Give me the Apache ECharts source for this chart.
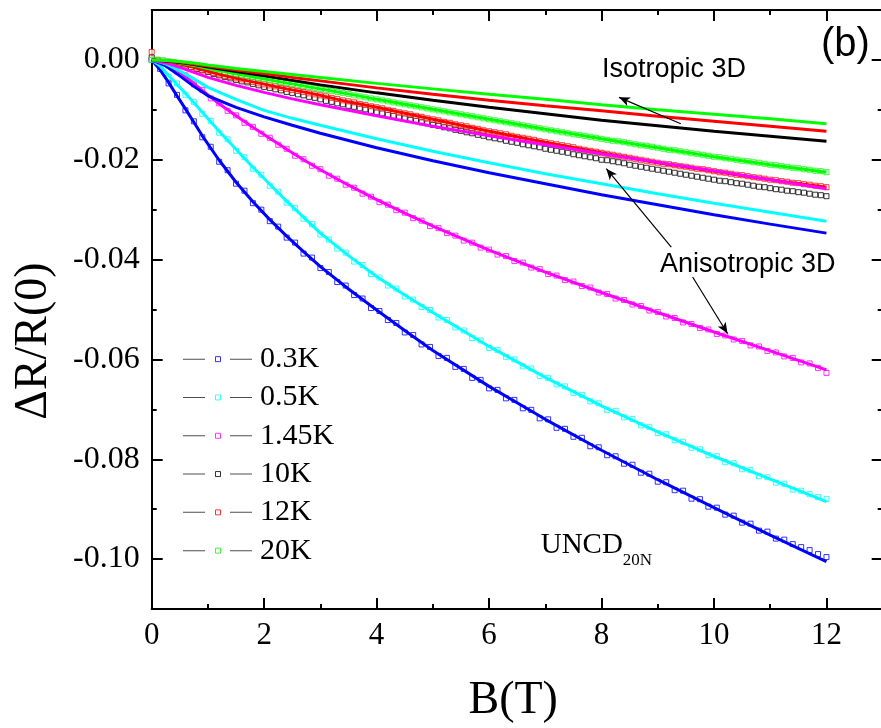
<!DOCTYPE html>
<html><head><meta charset="utf-8">
<script src="https://cdn.jsdelivr.net/npm/echarts@6/dist/echarts.min.js"></script>
<style>html,body{margin:0;padding:0;background:#fff}#c{width:881px;height:728px}</style>
</head><body><div id="c"></div>
<script>
// Magnetic field values of the measured points (T), low-temperature runs
const B = [0,0.15,0.3,0.45,0.6,0.75,0.9,1.05,1.2,1.35,
1.5,1.65,1.8,1.95,2.1,2.25,2.4,2.55,2.7,2.85,
3,3.15,3.3,3.45,3.6,3.75,3.9,4.05,4.2,4.35,
4.5,4.65,4.8,4.95,5.1,5.25,5.4,5.55,5.7,5.85,
6,6.15,6.3,6.45,6.6,6.75,6.9,7.05,7.2,7.35,
7.5,7.65,7.8,7.95,8.1,8.25,8.4,8.55,8.7,8.85,
9,9.15,9.3,9.45,9.6,9.75,9.9,10.05,10.2,10.35,
10.5,10.65,10.8,10.95,11.1,11.25,11.4,11.55,11.7,11.85,
12];
// Magnetic field values of the measured points (T), high-temperature runs
const B2 = [0,0.1,0.2,0.3,0.4,0.5,0.6,0.7,0.8,0.9,
1,1.1,1.2,1.3,1.4,1.5,1.6,1.7,1.8,1.9,
2,2.1,2.2,2.3,2.4,2.5,2.6,2.7,2.8,2.9,
3,3.1,3.2,3.3,3.4,3.5,3.6,3.7,3.8,3.9,
4,4.1,4.2,4.3,4.4,4.5,4.6,4.7,4.8,4.9,
5,5.1,5.2,5.3,5.4,5.5,5.6,5.7,5.8,5.9,
6,6.1,6.2,6.3,6.4,6.5,6.6,6.7,6.8,6.9,
7,7.1,7.2,7.3,7.4,7.5,7.6,7.7,7.8,7.9,
8,8.1,8.2,8.3,8.4,8.5,8.6,8.7,8.8,8.9,
9,9.1,9.2,9.3,9.4,9.5,9.6,9.7,9.8,9.9,
10,10.1,10.2,10.3,10.4,10.5,10.6,10.7,10.8,10.9,
11,11.1,11.2,11.3,11.4,11.5,11.6,11.7,11.8,11.9,
12];
const data03K = [0,-0.0018,-0.0047,-0.0070,-0.0101,-0.0123,-0.0155,-0.0174,-0.0204,-0.0221,
-0.0248,-0.0262,-0.0287,-0.0300,-0.0323,-0.0334,-0.0356,-0.0366,-0.0388,-0.0396,
-0.0417,-0.0425,-0.0445,-0.0452,-0.0471,-0.0478,-0.0497,-0.0503,-0.0521,-0.0527,
-0.0546,-0.0551,-0.0570,-0.0575,-0.0593,-0.0597,-0.0615,-0.0619,-0.0637,-0.0641,
-0.0658,-0.0661,-0.0678,-0.0681,-0.0698,-0.0701,-0.0718,-0.0720,-0.0737,-0.0739,
-0.0755,-0.0757,-0.0774,-0.0776,-0.0792,-0.0794,-0.0809,-0.0811,-0.0827,-0.0829,
-0.0845,-0.0846,-0.0862,-0.0863,-0.0879,-0.0880,-0.0895,-0.0897,-0.0911,-0.0913,
-0.0927,-0.0929,-0.0943,-0.0945,-0.0959,-0.0961,-0.0970,-0.0976,-0.0982,-0.0990,
-0.0996];
const data05K = [0,-0.0010,-0.0034,-0.0047,-0.0070,-0.0084,-0.0108,-0.0122,-0.0146,-0.0159,
-0.0182,-0.0195,-0.0218,-0.0230,-0.0252,-0.0264,-0.0286,-0.0297,-0.0318,-0.0329,
-0.0350,-0.0360,-0.0378,-0.0386,-0.0404,-0.0411,-0.0429,-0.0436,-0.0452,-0.0458,
-0.0474,-0.0480,-0.0495,-0.0501,-0.0516,-0.0521,-0.0536,-0.0542,-0.0557,-0.0562,
-0.0577,-0.0581,-0.0595,-0.0600,-0.0614,-0.0618,-0.0633,-0.0637,-0.0650,-0.0654,
-0.0667,-0.0671,-0.0684,-0.0688,-0.0701,-0.0703,-0.0716,-0.0719,-0.0732,-0.0735,
-0.0748,-0.0750,-0.0762,-0.0765,-0.0777,-0.0780,-0.0792,-0.0794,-0.0806,-0.0808,
-0.0820,-0.0822,-0.0834,-0.0836,-0.0847,-0.0849,-0.0861,-0.0863,-0.0870,-0.0876,
-0.0880];
const data145K = [0,-0.0004,-0.0010,-0.0023,-0.0031,-0.0049,-0.0060,-0.0077,-0.0087,-0.0102,
-0.0111,-0.0126,-0.0134,-0.0148,-0.0156,-0.0170,-0.0178,-0.0192,-0.0199,-0.0212,
-0.0219,-0.0232,-0.0238,-0.0250,-0.0256,-0.0268,-0.0274,-0.0285,-0.0290,-0.0301,
-0.0306,-0.0317,-0.0322,-0.0333,-0.0337,-0.0347,-0.0352,-0.0362,-0.0366,-0.0376,
-0.0380,-0.0390,-0.0393,-0.0403,-0.0406,-0.0416,-0.0419,-0.0429,-0.0432,-0.0441,
-0.0444,-0.0453,-0.0456,-0.0466,-0.0469,-0.0478,-0.0481,-0.0490,-0.0493,-0.0502,
-0.0505,-0.0514,-0.0517,-0.0526,-0.0529,-0.0537,-0.0540,-0.0549,-0.0552,-0.0560,
-0.0563,-0.0572,-0.0574,-0.0583,-0.0586,-0.0594,-0.0597,-0.0606,-0.0608,-0.0617,
-0.0627];
const data10K = [0.0005,0,-0.0002,-0.0004,-0.0006,-0.0008,-0.0011,-0.0014,-0.0018,-0.0021,
-0.0024,-0.0028,-0.0031,-0.0034,-0.0037,-0.0040,-0.0043,-0.0045,-0.0048,-0.0051,
-0.0054,-0.0056,-0.0059,-0.0061,-0.0064,-0.0066,-0.0069,-0.0071,-0.0074,-0.0076,
-0.0079,-0.0082,-0.0084,-0.0087,-0.0089,-0.0092,-0.0094,-0.0097,-0.0099,-0.0102,
-0.0105,-0.0107,-0.0110,-0.0112,-0.0115,-0.0117,-0.0120,-0.0122,-0.0125,-0.0127,
-0.0130,-0.0132,-0.0135,-0.0137,-0.0140,-0.0142,-0.0145,-0.0147,-0.0150,-0.0152,
-0.0155,-0.0157,-0.0159,-0.0162,-0.0164,-0.0166,-0.0169,-0.0171,-0.0173,-0.0175,
-0.0178,-0.0180,-0.0182,-0.0184,-0.0186,-0.0189,-0.0191,-0.0193,-0.0195,-0.0197,
-0.0200,-0.0201,-0.0203,-0.0205,-0.0207,-0.0210,-0.0212,-0.0214,-0.0216,-0.0218,
-0.0220,-0.0222,-0.0224,-0.0226,-0.0228,-0.0230,-0.0232,-0.0234,-0.0236,-0.0238,
-0.0240,-0.0242,-0.0243,-0.0245,-0.0247,-0.0248,-0.0250,-0.0252,-0.0254,-0.0255,
-0.0257,-0.0259,-0.0260,-0.0262,-0.0263,-0.0265,-0.0266,-0.0268,-0.0270,-0.0271,
-0.0273];
const data12K = [0.0016,0,-0.0002,-0.0004,-0.0006,-0.0008,-0.0011,-0.0014,-0.0017,-0.0020,
-0.0023,-0.0026,-0.0029,-0.0032,-0.0034,-0.0037,-0.0039,-0.0042,-0.0044,-0.0047,
-0.0049,-0.0051,-0.0053,-0.0056,-0.0058,-0.0060,-0.0062,-0.0064,-0.0067,-0.0069,
-0.0071,-0.0073,-0.0076,-0.0078,-0.0081,-0.0083,-0.0085,-0.0088,-0.0090,-0.0093,
-0.0095,-0.0097,-0.0100,-0.0102,-0.0105,-0.0107,-0.0109,-0.0112,-0.0114,-0.0117,
-0.0119,-0.0121,-0.0124,-0.0126,-0.0129,-0.0131,-0.0133,-0.0136,-0.0138,-0.0141,
-0.0143,-0.0145,-0.0147,-0.0149,-0.0152,-0.0154,-0.0156,-0.0158,-0.0160,-0.0163,
-0.0165,-0.0167,-0.0169,-0.0171,-0.0173,-0.0175,-0.0178,-0.0180,-0.0182,-0.0184,
-0.0186,-0.0188,-0.0190,-0.0192,-0.0194,-0.0196,-0.0198,-0.0200,-0.0202,-0.0204,
-0.0206,-0.0208,-0.0209,-0.0211,-0.0213,-0.0214,-0.0216,-0.0218,-0.0219,-0.0221,
-0.0223,-0.0225,-0.0226,-0.0228,-0.0230,-0.0231,-0.0233,-0.0235,-0.0236,-0.0238,
-0.0240,-0.0241,-0.0243,-0.0244,-0.0246,-0.0247,-0.0249,-0.0250,-0.0252,-0.0253,
-0.0255];
const data20K = [0,0,-0.0001,-0.0003,-0.0004,-0.0006,-0.0008,-0.0010,-0.0012,-0.0015,
-0.0017,-0.0019,-0.0021,-0.0024,-0.0026,-0.0028,-0.0030,-0.0032,-0.0034,-0.0036,
-0.0038,-0.0040,-0.0042,-0.0044,-0.0046,-0.0048,-0.0050,-0.0052,-0.0054,-0.0056,
-0.0058,-0.0060,-0.0062,-0.0064,-0.0066,-0.0068,-0.0071,-0.0073,-0.0075,-0.0077,
-0.0079,-0.0081,-0.0083,-0.0085,-0.0087,-0.0089,-0.0091,-0.0093,-0.0095,-0.0097,
-0.0099,-0.0101,-0.0103,-0.0105,-0.0107,-0.0109,-0.0111,-0.0113,-0.0115,-0.0117,
-0.0119,-0.0121,-0.0123,-0.0125,-0.0127,-0.0129,-0.0131,-0.0133,-0.0135,-0.0137,
-0.0139,-0.0141,-0.0143,-0.0145,-0.0147,-0.0149,-0.0150,-0.0152,-0.0154,-0.0156,
-0.0158,-0.0160,-0.0162,-0.0163,-0.0165,-0.0167,-0.0169,-0.0171,-0.0172,-0.0174,
-0.0176,-0.0178,-0.0180,-0.0181,-0.0183,-0.0185,-0.0187,-0.0188,-0.0190,-0.0192,
-0.0194,-0.0195,-0.0197,-0.0198,-0.0200,-0.0202,-0.0203,-0.0205,-0.0206,-0.0208,
-0.0210,-0.0211,-0.0213,-0.0214,-0.0216,-0.0217,-0.0219,-0.0220,-0.0222,-0.0223,
-0.0225];

// Anisotropic 3D fits (through the data)
const fitB = [0,0.15,0.3,0.45,0.6,0.75,0.9,1.2,1.5,1.8,2.1,2.4,2.7,3,3.5,4,4.5,5,6,7,8,9,10,11,12];
const aniso03K  = [0,-0.0020,-0.0045,-0.0072,-0.0098,-0.0125,-0.0152,-0.0201,-0.0245,-0.0284,-0.0320,-0.0353,-0.0384,-0.0414,-0.0459,-0.0501,-0.0542,-0.0582,-0.0654,-0.0720,-0.0782,-0.0841,-0.0897,-0.0952,-0.1005];
const aniso05K  = [0,-0.0012,-0.0031,-0.0049,-0.0067,-0.0086,-0.0105,-0.0143,-0.0179,-0.0215,-0.0249,-0.0283,-0.0315,-0.0347,-0.0392,-0.0434,-0.0471,-0.0506,-0.0574,-0.0636,-0.0693,-0.0745,-0.0794,-0.0840,-0.0885];
const aniso145K = [0,-0.0003,-0.0011,-0.0021,-0.0033,-0.0047,-0.0061,-0.0088,-0.0112,-0.0135,-0.0157,-0.0179,-0.0200,-0.0220,-0.0251,-0.0280,-0.0307,-0.0333,-0.0381,-0.0425,-0.0466,-0.0506,-0.0545,-0.0583,-0.0621];
const aniso12K  = [0,-0.0001,-0.0004,-0.0007,-0.0011,-0.0015,-0.0020,-0.0029,-0.0037,-0.0044,-0.0051,-0.0058,-0.0064,-0.0071,-0.0084,-0.0095,-0.0107,-0.0119,-0.0143,-0.0165,-0.0186,-0.0206,-0.0223,-0.0240,-0.0255];
const aniso20K  = [0,-0.0001,-0.0003,-0.0005,-0.0008,-0.0011,-0.0015,-0.0021,-0.0028,-0.0034,-0.0040,-0.0046,-0.0052,-0.0058,-0.0068,-0.0079,-0.0089,-0.0099,-0.0119,-0.0139,-0.0158,-0.0176,-0.0194,-0.0210,-0.0225];
// Isotropic 3D fits
const isoB = [0,0.25,0.5,0.75,1,1.5,2,2.5,3,4,5,6,7,8,9,10,11,12];
const iso03K  = [0,-0.0012,-0.0032,-0.0053,-0.0072,-0.0095,-0.0114,-0.0131,-0.0147,-0.0176,-0.0202,-0.0226,-0.0248,-0.0270,-0.0290,-0.0310,-0.0329,-0.0347];
const iso05K  = [0,-0.0008,-0.0022,-0.0038,-0.0055,-0.0079,-0.0101,-0.0117,-0.0131,-0.0158,-0.0183,-0.0206,-0.0228,-0.0248,-0.0268,-0.0287,-0.0305,-0.0323];
const iso145K = [0,-0.0006,-0.0015,-0.0025,-0.0035,-0.0051,-0.0065,-0.0078,-0.0090,-0.0112,-0.0133,-0.0152,-0.0170,-0.0188,-0.0205,-0.0222,-0.0240,-0.0258];
const iso10K  = [0,-0.0002,-0.0005,-0.0009,-0.0014,-0.0023,-0.0032,-0.0041,-0.0050,-0.0066,-0.0081,-0.0095,-0.0108,-0.0121,-0.0132,-0.0143,-0.0153,-0.0163];
const iso12K  = [0,-0.0001,-0.0004,-0.0008,-0.0012,-0.0020,-0.0027,-0.0035,-0.0042,-0.0056,-0.0069,-0.0081,-0.0092,-0.0102,-0.0113,-0.0123,-0.0133,-0.0143];
const iso20K  = [0,-0.0001,-0.0003,-0.0006,-0.0010,-0.0017,-0.0023,-0.0029,-0.0035,-0.0047,-0.0058,-0.0069,-0.0079,-0.0090,-0.0100,-0.0109,-0.0118,-0.0128];

const names  = ['0.3K','0.5K','1.45K','10K','12K','20K'];
const colors = ['#0000ff','#00ffff','#ff00ff','#000000','#ff0000','#00ff00'];
const xMajor = [0,2,4,6,8,10,12];
const xMinor = [1,3,5,7,9,11];
const yMajor = [0,-0.02,-0.04,-0.06,-0.08,-0.10];
const yMinor = [-0.01,-0.03,-0.05,-0.07,-0.09];
// annotation arrows [tail, head] in data units
const arrowIso    = [[9.41,-0.0128],[8.31,-0.0075]];
const arrowAniso1 = [[9.24,-0.0375],[8.085,-0.0218]];
const arrowAniso2 = [[9.62,-0.0435],[10.24,-0.0548]];

const SERIF = 'Liberation Serif';
const zip = (xs, ys) => xs.map((x, i) => [x, ys[i]]);

const dataSets = [[B, data03K], [B, data05K], [B, data145K], [B2, data10K], [B2, data12K], [B2, data20K]];
const series = [];
dataSets.forEach((d, i) => {
  series.push({
    type: 'scatter', name: names[i], data: zip(d[0], d[1]),
    symbol: 'rect', symbolSize: 5, z: 2,
    itemStyle: { color: '#ffffff', borderColor: colors[i], borderWidth: 1 },
    emphasis: { disabled: true }
  });
});
function fitLine(name, xs, ys, color) {
  return {
    type: 'line', name: name, data: zip(xs, ys), showSymbol: false, symbol: 'none',
    smooth: false, z: 3,
    lineStyle: { color: color, width: 3 }, itemStyle: { color: color },
    emphasis: { disabled: true }
  };
}
series.push(fitLine('aniso 0.3K', fitB, aniso03K, colors[0]));
series.push(fitLine('aniso 0.5K', fitB, aniso05K, colors[1]));
series.push(fitLine('aniso 1.45K', fitB, aniso145K, colors[2]));
series.push(fitLine('aniso 12K', fitB, aniso12K, colors[4]));
series.push(fitLine('aniso 20K', fitB, aniso20K, colors[5]));
series.push(fitLine('iso 0.3K', isoB, iso03K, colors[0]));
series.push(fitLine('iso 0.5K', isoB, iso05K, colors[1]));
series.push(fitLine('iso 1.45K', isoB, iso145K, colors[2]));
series.push(fitLine('iso 10K', isoB, iso10K, colors[3]));
series.push(fitLine('iso 12K', isoB, iso12K, colors[4]));
const last = fitLine('iso 20K', isoB, iso20K, colors[5]);
last.markLine = {
  silent: true, animation: false, symbol: ['none', 'arrow'], symbolSize: [7, 11],
  lineStyle: { color: '#000', width: 1.2, type: 'solid' }, label: { show: false },
  emphasis: { disabled: true },
  data: [arrowIso, arrowAniso1, arrowAniso2].map(a => [{ coord: a[0] }, { coord: a[1] }])
};
series.push(last);

const tickStyle = { color: '#000', width: 2 };
function xAx(pos, ticks, len, main) {
  return {
    type: 'value', position: pos, min: 0, max: 13,
    axisLine: { show: main, onZero: false, lineStyle: { color: '#000', width: 2 } },
    axisTick: { show: true, inside: true, length: len, customValues: ticks, lineStyle: tickStyle },
    axisLabel: (main && pos === 'bottom') ? { customValues: xMajor, color: '#000', fontFamily: SERIF, fontSize: 31, margin: 11 } : { show: false },
    splitLine: { show: false }
  };
}
function yAx(pos, ticks, len, main) {
  return {
    type: 'value', position: pos, min: -0.11, max: 0.01,
    axisLine: { show: main, onZero: false, lineStyle: { color: '#000', width: 2 } },
    axisTick: { show: true, inside: true, length: len, customValues: ticks, lineStyle: tickStyle },
    axisLabel: (main && pos === 'left') ? { customValues: yMajor, color: '#000', fontFamily: SERIF, fontSize: 32, margin: 12, formatter: v => v.toFixed(2) } : { show: false },
    splitLine: { show: false }
  };
}
const xAxes = [xAx('bottom', xMajor, 11, true), xAx('bottom', xMinor, 5, false), xAx('top', xMajor, 11, true), xAx('top', xMinor, 5, false)];
xAxes[0].name = 'B(T)';
xAxes[0].nameLocation = 'middle';
xAxes[0].nameGap = 69;
xAxes[0].nameTextStyle = { fontFamily: SERIF, fontSize: 46, color: '#000', padding: [0, 8, 0, 0] };
const yAxes = [yAx('left', yMajor, 11, true), yAx('left', yMinor, 5, false), yAx('right', yMajor, 11, true), yAx('right', yMinor, 5, false)];
yAxes[0].name = 'ΔR/R(0)';
yAxes[0].nameLocation = 'middle';
yAxes[0].nameGap = 95;
yAxes[0].nameRotate = 90;
yAxes[0].nameTextStyle = { fontFamily: SERIF, fontSize: 46, color: '#000', padding: [0, 63, 0, 0] };

const legendText = { fontFamily: SERIF, fontSize: 30, lineHeight: 38.3, color: '#000', padding: [0, 0, 0, 3] };
const option = {
  animation: false,
  backgroundColor: '#fff',
  grid: { left: 151.7, top: 10, width: 731, height: 599, containLabel: false, outerBoundsMode: 'none' },
  xAxis: xAxes,
  yAxis: yAxes,
  legend: [
    {
      data: names, orient: 'vertical', left: 183, top: 340, padding: 0, itemGap: 0,
      itemWidth: 69, itemHeight: 2, icon: 'path://M0,0H22V1H0ZM47,0H69V1H47Z',
      itemStyle: { color: '#222', borderWidth: 0 }, textStyle: legendText, selectedMode: false
    },
    {
      data: names.map((n, i) => ({ name: n, itemStyle: { color: 'rgba(0,0,0,0)', borderColor: colors[i], borderWidth: 1 } })),
      orient: 'vertical', left: 215, top: 340, padding: 0, itemGap: 0,
      itemWidth: 5, itemHeight: 5, icon: 'rect',
      textStyle: Object.assign({}, legendText, { color: 'rgba(0,0,0,0)' }), selectedMode: false
    }
  ],
  graphic: [
    { type: 'text', x: 602, y: 70, silent: true, style: { text: 'Isotropic 3D', font: '27px "Liberation Sans"', fill: '#000', verticalAlign: 'middle' } },
    { type: 'text', x: 660, y: 264.4, silent: true, style: { text: 'Anisotropic 3D', font: '27px "Liberation Sans"', fill: '#000', verticalAlign: 'middle' } },
    { type: 'text', x: 821, y: 45, silent: true, style: { text: '(b)', font: '40px "Liberation Sans"', fill: '#000', verticalAlign: 'middle' } },
    { type: 'text', x: 540.7, y: 545.3, silent: true, style: { text: 'UNCD', font: '29px "Liberation Serif"', fill: '#000', verticalAlign: 'middle' } },
    { type: 'text', x: 622.7, y: 561, silent: true, style: { text: '20N', font: '17px "Liberation Serif"', fill: '#000', verticalAlign: 'middle' } }
  ],
  series: series
};
const chart = echarts.init(document.getElementById('c'), null, { renderer: 'canvas' });
chart.setOption(option);
</script>
</body></html>
